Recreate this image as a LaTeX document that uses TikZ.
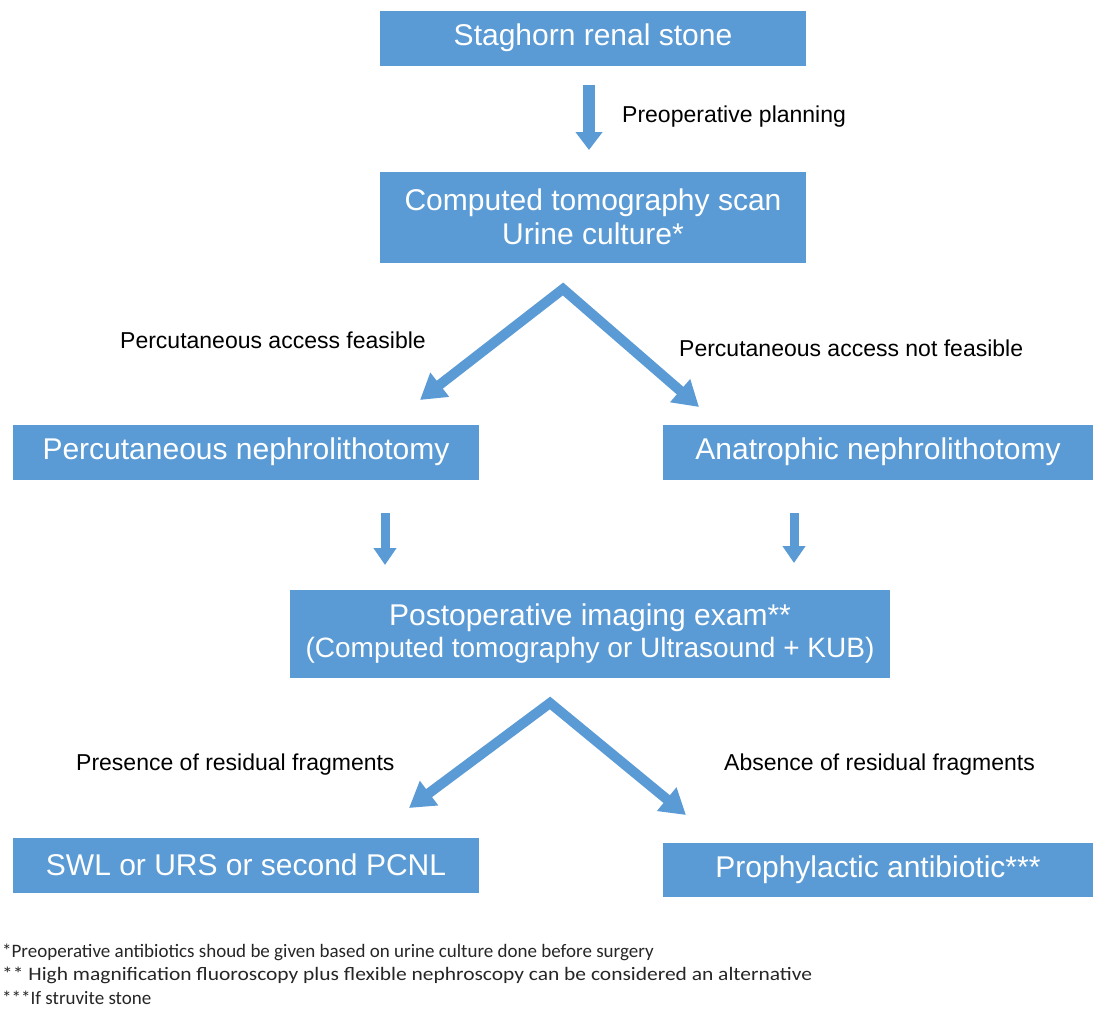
\documentclass[tikz,border=0pt]{standalone}
\usepackage{fontspec}
\usepackage{graphicx}
\setmainfont{Liberation Sans}
\newfontfamily\notefont{Carlito}
\usetikzlibrary{arrows.meta,calc}
\definecolor{boxblue}{HTML}{5B9BD5}
\begin{document}
\begin{tikzpicture}[x=1pt,y=-1pt,
  flowbox/.style={fill=boxblue, text=white, inner sep=0pt, align=center, font=\fontsize{30}{34}\selectfont},
  lbl/.style={text=black, inner sep=0pt, anchor=west, font=\fontsize{23}{26}\selectfont},
  footnote/.style={text=black!85, inner sep=0pt, anchor=west, font=\notefont\fontsize{19}{22}\selectfont},
  downarr/.style={draw=boxblue, line width=12pt, -{Triangle[length=18pt,width=26pt]}},
  smallarr/.style={draw=boxblue, line width=9pt, -{Triangle[length=17pt,width=22pt]}},
  vshape/.style={draw=boxblue, line width=10pt, line join=miter, {Triangle[length=25pt,width=29pt]}-{Triangle[length=25pt,width=29pt]}}
]
\fill[white] (0,0) rectangle (1097,1028);
\useasboundingbox (0,0) rectangle (1097,1028);

% boxes
\node[flowbox, minimum width=426pt, minimum height=55pt] (b1) at (593,38) {Staghorn renal stone};
\node[flowbox, minimum width=426pt, minimum height=91pt] (b2) at (593,217) {Computed tomography scan\\Urine culture*};
\node[flowbox, minimum width=466pt, minimum height=55pt] (b3l) at (246,452) {Percutaneous nephrolithotomy};
\node[flowbox, minimum width=430pt, minimum height=55pt] (b3r) at (878,452) {Anatrophic nephrolithotomy};
\node[flowbox, minimum width=600pt, minimum height=88pt] (b4) at (590,634) {Postoperative imaging exam**\\[-2pt]{\fontsize{28}{32}\selectfont (Computed tomography or Ultrasound + KUB)}};
\node[flowbox, minimum width=466pt, minimum height=55pt] (b5l) at (246,865) {SWL or URS or second PCNL};
\node[flowbox, minimum width=430pt, minimum height=54pt] (b5r) at (878,870) {Prophylactic antibiotic***};

% labels
\node[lbl] (l1) at (622,117) {Preoperative planning};
\node[lbl] (l2) at (120,340) {Percutaneous access feasible};
\node[lbl] (l3) at (679,348) {Percutaneous access not feasible};
\node[lbl] (l4) at (76,765) {Presence of residual fragments};
\node[lbl] (l5) at (724,765) {Absence of residual fragments};

% arrow coordinates
\coordinate (a1s) at (589,85);
\coordinate (a1e) at (589,150);
\coordinate (v1l) at (420,400);
\coordinate (v1a) at (563,289);
\coordinate (v1r) at (699,407);
\coordinate (dls) at (385,513);
\coordinate (dle) at (385,565);
\coordinate (drs) at (794,513);
\coordinate (dre) at (794,563);
\coordinate (v2l) at (409,808);
\coordinate (v2a) at (550,703);
\coordinate (v2r) at (686,815);

\draw[downarr] (a1s) -- (a1e);
\draw[vshape] (v1l) -- (v1a) -- (v1r);
\draw[smallarr] (dls) -- (dle);
\draw[smallarr] (drs) -- (dre);
\draw[vshape] (v2l) -- (v2a) -- (v2r);

% footnotes
\node[footnote] (f1) at (2,952) {*Preoperative antibiotics shoud be given based on urine culture done before surgery};
\node[footnote] (f2) at (2,975) {\scalebox{1.13}[1]{** High magnification fluoroscopy plus flexible nephroscopy can be considered an alternative}};
\node[footnote] (f3) at (2,998) {***If struvite stone};
\end{tikzpicture}
\end{document}
